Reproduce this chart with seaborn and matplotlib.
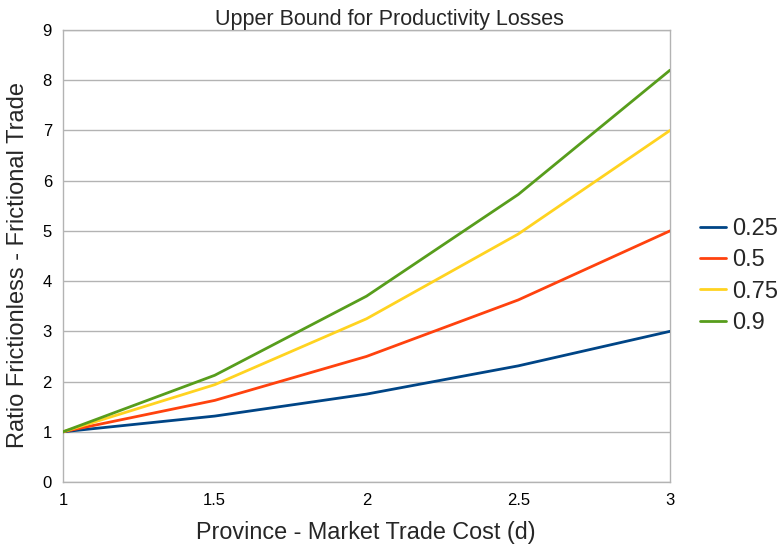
import matplotlib
matplotlib.use("Agg")
import matplotlib.pyplot as plt
import seaborn as sns
import pandas as pd

# Trade cost values on the x axis
trade_cost = [1, 1.5, 2, 2.5, 3]

# Ratio frictionless / frictional trade for each parameter value
series_labels = ["0.25", "0.5", "0.75", "0.9"]
ratio_025 = [1.0, 1.3125, 1.75, 2.3125, 3.0]
ratio_050 = [1.0, 1.625, 2.5, 3.625, 5.0]
ratio_075 = [1.0, 1.9375, 3.25, 4.9375, 7.0]
ratio_090 = [1.0, 2.125, 3.7, 5.725, 8.2]

colors = ["#004586", "#ff420e", "#ffd320", "#579d1c"]

sns.set_style("white")
plt.rcParams["font.family"] = ["Liberation Sans", "DejaVu Sans"]

rows = []
for lab, vals in zip(series_labels, [ratio_025, ratio_050, ratio_075, ratio_090]):
    for x, y in zip(trade_cost, vals):
        rows.append({"d": x, "ratio": y, "series": lab})
df = pd.DataFrame(rows)

W, H = 777, 545
fig = plt.figure(figsize=(W / 100, H / 100), dpi=100)
ax = fig.add_axes([63 / W, 1 - 482 / H, (670 - 63) / W, (482 - 30) / H])

sns.lineplot(data=df, x="d", y="ratio", hue="series", palette=colors,
             hue_order=series_labels, linewidth=2.0, ax=ax, zorder=3)

ax.set_xlim(1, 3)
ax.set_ylim(0, 9)
ax.set_xticks([1, 1.5, 2, 2.5, 3])
ax.set_xticklabels(["1", "1.5", "2", "2.5", "3"])
ax.set_yticks(range(0, 10))
ax.yaxis.grid(True, color="#b3b3b3", linewidth=1)
ax.set_axisbelow(True)
for side in ["left", "right", "top", "bottom"]:
    ax.spines[side].set_visible(True)
    ax.spines[side].set_color("#b3b3b3")
    ax.spines[side].set_linewidth(1)
ax.tick_params(axis="both", which="both", direction="out", length=4,
               color="#b3b3b3", labelsize=12, labelcolor="black", pad=4)

ax.set_xlabel("Province - Market Trade Cost (d)", fontsize=16.8, va="center")
ax.xaxis.set_label_coords((366 - 63) / 607, (482 - 532) / 452)
ax.set_ylabel("Ratio Frictionless - Frictional Trade", fontsize=17, va="center")
ax.yaxis.set_label_coords((18 - 63) / 607, (482 - 265) / 452)

fig.text(389 / W, 1 - 20 / H, "Upper Bound for Productivity Losses",
         fontsize=15.5, ha="center", va="center")

handles, labels = ax.get_legend_handles_labels()
ax.legend(handles, labels, loc="center left",
          bbox_to_anchor=(700 / W, 1 - 276 / H), bbox_transform=fig.transFigure,
          frameon=False, fontsize=17, handlelength=1.1, handletextpad=0.25,
          labelspacing=0.40, borderpad=0, borderaxespad=0)

fig.savefig("out.png", dpi=100)
